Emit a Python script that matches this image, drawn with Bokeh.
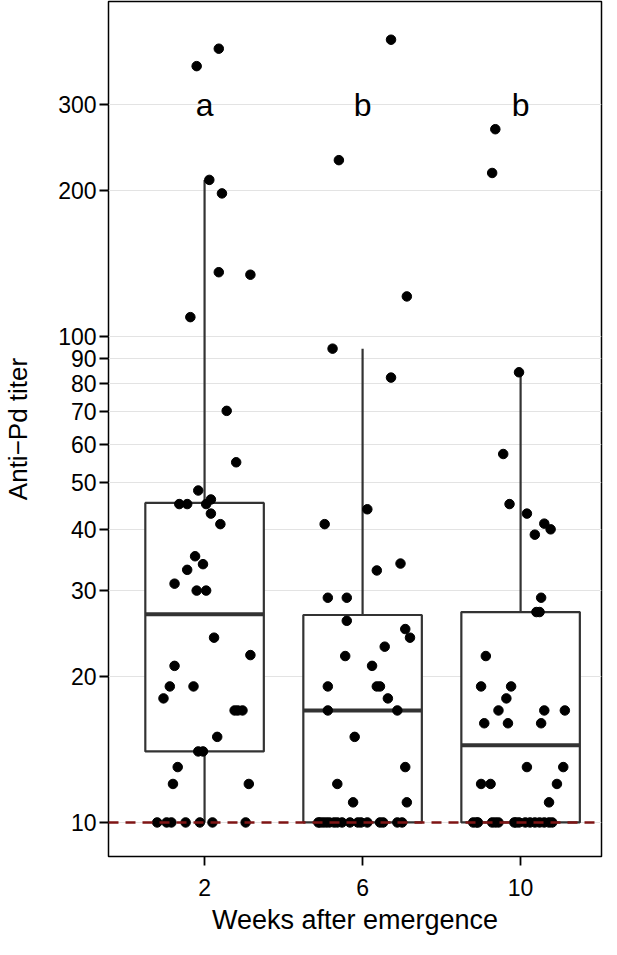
import numpy as np
from bokeh.plotting import figure
from bokeh.models import Range1d, FixedTicker, PrintfTickFormatter, Span, ColumnDataSource
from bokeh.core.properties import value
from bokeh.embed import file_html
from bokeh.resources import INLINE

# ---------------- data ----------------
WEEKS = ["2", "6", "10"]
SIG_LETTERS = ["a", "b", "b"]
Y_TICKS = [10, 20, 30, 40, 50, 60, 70, 80, 90, 100, 200, 300]
DETECTION_LIMIT = 10

TITER_W2 = [391, 360, 210, 197, 135.6, 134, 109.6, 70.3, 55.1, 48.2,
            45.2, 45.2, 46.2, 45.2, 43.2, 41.1, 35.3, 34.0, 33.1, 31.0,
            30.0, 30.0, 24.0, 22.1, 21.0, 19.05, 19.05, 18.0, 17.0, 17.0,
            17.0, 15.0, 14.0, 14.0, 13.0, 12.0, 12.0,
            10, 10, 10, 10, 10, 10, 10]
JITTER_W2 = [0.09, -0.05, 0.03, 0.11, 0.09, 0.29, -0.09, 0.14, 0.20, -0.04,
             -0.16, -0.11, 0.04, 0.01, 0.04, 0.10, -0.06, -0.01, -0.11, -0.19,
             -0.05, 0.01, 0.06, 0.29, -0.19, -0.22, -0.07, -0.26, 0.19, 0.21,
             0.24, 0.08, -0.04, -0.01, -0.17, -0.20, 0.28,
             -0.30, -0.24, -0.21, -0.12, -0.03, 0.05, 0.26]

TITER_W6 = [408, 230.6, 120.9, 94.4, 82.3, 44.1, 41.1, 34.1, 33.0, 29.0,
            29.0, 26.0, 25.0, 24.0, 23.0, 22.0, 21.0, 19.05, 19.05, 19.05,
            18.0, 17.0, 17.0, 15.0, 13.0, 12.0, 11.0, 11.0,
            10, 10, 10, 10, 10, 10, 10, 10, 10, 10, 10, 10, 10, 10, 10, 10]
JITTER_W6 = [0.18, -0.15, 0.28, -0.19, 0.18, 0.03, -0.24, 0.24, 0.09, -0.22,
             -0.10, -0.10, 0.27, 0.30, 0.14, -0.11, 0.06, -0.22, 0.09, 0.11,
             0.16, -0.22, 0.22, -0.05, 0.27, -0.16, -0.06, 0.28,
             -0.28, -0.27, -0.25, -0.23, -0.21, -0.18, -0.16, -0.13, -0.08, -0.03,
             -0.01, 0.03, 0.11, 0.13, 0.22, 0.25]

TITER_W10 = [267, 217, 84.4, 57.3, 45.2, 43.2, 41.2, 40.1, 39.1, 29.0,
             27.1, 27.1, 22.0, 19.05, 19.05, 18.0, 17.0, 17.0, 17.0, 16.0,
             16.0, 16.0, 13.0, 13.0, 12.0, 12.0, 12.0, 11.0,
             10, 10, 10, 10, 10, 10, 10, 10, 10, 10, 10, 10, 10, 10, 10, 10]
JITTER_W10 = [-0.16, -0.18, -0.01, -0.11, -0.07, 0.04, 0.15, 0.19, 0.09, 0.13,
              0.10, 0.12, -0.22, -0.25, -0.06, -0.09, -0.14, 0.15, 0.28, -0.23,
              -0.08, 0.13, 0.04, 0.27, -0.25, -0.19, 0.23, 0.18,
              -0.30, -0.28, -0.27, -0.18, -0.16, -0.14, -0.04, -0.03, -0.01, 0.03,
              0.06, 0.09, 0.12, 0.15, 0.18, 0.20]

GROUPS = [(TITER_W2, JITTER_W2), (TITER_W6, JITTER_W6), (TITER_W10, JITTER_W10)]

# ---------------- styles ----------------
FONT = "Liberation Sans"
BOX_COLOR = "#333333"
BOX_WIDTH = 0.75


def box_stats(vals):
    lv = np.log10(np.asarray(vals, dtype=float))
    q1, med, q3 = np.percentile(lv, [25, 50, 75])
    iqr = q3 - q1
    hi = lv[lv <= q3 + 1.5 * iqr].max()
    lo = lv[lv >= q1 - 1.5 * iqr].min()
    return 10 ** lo, 10 ** q1, 10 ** med, 10 ** q3, 10 ** hi


p = figure(frame_width=493, frame_height=855, y_axis_type="log",
           x_range=Range1d(0.392, 3.512), y_range=Range1d(8.51, 489),
           output_backend="svg", toolbar_location=None,
           min_border_left=106, min_border_right=2, min_border_top=1,
           min_border_bottom=83, background_fill_color="white",
           border_fill_color="white")

p.outline_line_color = "black"
p.outline_line_width = 1.5
p.outline_line_alpha = 1.0

yt = FixedTicker(ticks=Y_TICKS)
p.yaxis.ticker = yt
p.ygrid.ticker = yt
p.yaxis.formatter = PrintfTickFormatter(format="%d")
p.xaxis.ticker = FixedTicker(ticks=[1, 2, 3])
p.xaxis.major_label_overrides = {i + 1: w for i, w in enumerate(WEEKS)}
p.xgrid.grid_line_color = None
p.ygrid.grid_line_color = "#e3e3e3"
p.ygrid.grid_line_width = 1.2

for ax in (p.xaxis, p.yaxis):
    ax.axis_line_color = None
    ax.major_tick_line_color = "black"
    ax.major_tick_line_width = 1.8
    ax.major_tick_out = 9
    ax.major_tick_in = 0
    ax.minor_tick_line_color = None
    ax.major_label_text_font = FONT
    ax.major_label_text_color = "black"
    ax.axis_label_text_font = FONT
    ax.axis_label_text_font_style = "normal"
    ax.axis_label_text_color = "black"

p.yaxis.major_label_text_font_size = "23px"
p.xaxis.major_label_text_font_size = "23px"
p.yaxis.axis_label = "Anti\u2212Pd titer"
p.xaxis.axis_label = "Weeks after emergence"
p.yaxis.axis_label_text_font_size = "26px"
p.xaxis.axis_label_text_font_size = "27px"
p.yaxis.major_label_standoff = 3
p.xaxis.major_label_standoff = 13
p.yaxis.axis_label_standoff = 22
p.xaxis.axis_label_standoff = 6

# boxplots
xs = np.arange(1, len(GROUPS) + 1)
stats = [box_stats(v) for v, _ in GROUPS]
lo = [s[0] for s in stats]
q1 = [s[1] for s in stats]
med = [s[2] for s in stats]
q3 = [s[3] for s in stats]
hi = [s[4] for s in stats]
bsrc = ColumnDataSource(dict(x=xs, left=xs - BOX_WIDTH / 2, right=xs + BOX_WIDTH / 2,
                             lo=lo, q1=q1, med=med, q3=q3, hi=hi))
p.segment(x0="x", y0="q3", x1="x", y1="hi", source=bsrc, line_color=BOX_COLOR, line_width=2.2)
p.segment(x0="x", y0="lo", x1="x", y1="q1", source=bsrc, line_color=BOX_COLOR, line_width=2.2)
p.quad(left="left", right="right", bottom="q1", top="q3", source=bsrc,
       fill_color="white", line_color=BOX_COLOR, line_width=2.2)
p.segment(x0="left", y0="med", x1="right", y1="med", source=bsrc,
          line_color=BOX_COLOR, line_width=4)

# detection limit
p.add_layout(Span(location=DETECTION_LIMIT, dimension="width", line_color="#7f1515",
                  line_width=2.4, line_dash="10 7"))

# jittered points
px, py = [], []
for gi, (vals, jit) in enumerate(GROUPS):
    for v, j in zip(vals, jit):
        px.append(gi + 1 + j)
        py.append(v)
p.scatter(px, py, size=9.5, fill_color="black", line_color="black")

# significance letters
p.text(x=list(xs), y=[300] * len(xs), text=SIG_LETTERS, text_font=value(FONT),
       text_font_size="32px", text_align="center", text_baseline="middle",
       text_color="black")

open("out.html", "w").write(file_html(p, INLINE))
